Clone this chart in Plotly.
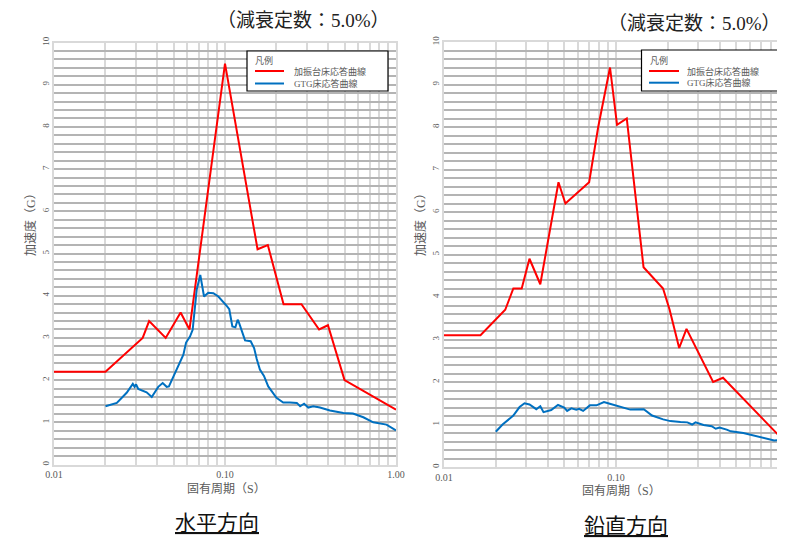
import plotly.graph_objects as go

W, H = 785, 540
OFF = 8  # page body margin: the figure is drawn 8px right/down in the browser

# ---------------- data ----------------
h_red_T = [0.01, 0.02, 0.033, 0.036, 0.045, 0.055, 0.062, 0.10, 0.155, 0.178, 0.22, 0.28, 0.355, 0.40, 0.50, 1.0]
h_red_A = [2.2, 2.2, 3.0, 3.4, 3.0, 3.6, 3.2, 9.5, 5.1, 5.2, 3.8, 3.8, 3.2, 3.3, 2.0, 1.3]

h_blue_T = [0.020, 0.0233, 0.0266, 0.0289, 0.0296, 0.0302, 0.0311, 0.0348, 0.0373, 0.0407, 0.0432,
            0.0456, 0.047, 0.0511, 0.0546, 0.0571, 0.0592, 0.0624, 0.0647, 0.0683, 0.0717, 0.0754,
            0.0798, 0.0855, 0.0914, 0.0957, 0.1023, 0.1059, 0.1104, 0.115, 0.1186, 0.121, 0.131,
            0.1413, 0.148, 0.1533, 0.160, 0.169, 0.179, 0.200, 0.219, 0.240, 0.263, 0.275, 0.29,
            0.307, 0.328, 0.359, 0.411, 0.492, 0.56, 0.644, 0.736, 0.88, 1.0]
h_blue_A = [1.38, 1.46, 1.70, 1.91, 1.84, 1.90, 1.79, 1.71, 1.60, 1.84, 1.93,
            1.84, 1.85, 2.17, 2.40, 2.60, 2.89, 3.03, 3.19, 4.14, 4.49, 3.98,
            4.07, 4.06, 3.98, 3.90, 3.76, 3.68, 3.27, 3.25, 3.43, 3.35, 2.94,
            2.92, 2.76, 2.50, 2.25, 2.10, 1.85, 1.58, 1.47, 1.47, 1.46, 1.38, 1.44,
            1.35, 1.38, 1.35, 1.28, 1.22, 1.21, 1.12, 1.00, 0.945, 0.81]

v_red_T = [0.01, 0.0163, 0.0227, 0.0253, 0.0283, 0.0314, 0.0363, 0.0463, 0.0508, 0.0698, 0.0788,
           0.0923, 0.1014, 0.1155, 0.1446, 0.1877, 0.205, 0.233, 0.257, 0.367, 0.419, 0.90, 1.0]
v_red_A = [3.1, 3.1, 3.7, 4.2, 4.2, 4.9, 4.3, 6.7, 6.2, 6.7, 8.0,
           9.4, 8.05, 8.2, 4.7, 4.2, 3.7, 2.8, 3.25, 2.0, 2.1, 0.71, 0.71]

v_blue_T = [0.020, 0.0219, 0.0253, 0.0275, 0.0294, 0.0314, 0.0344, 0.0363, 0.0379, 0.042, 0.046,
            0.050, 0.052, 0.055, 0.0588, 0.061, 0.0644, 0.0705, 0.077, 0.0851, 0.092, 0.100,
            0.109, 0.121, 0.145, 0.155, 0.162, 0.188, 0.207, 0.237, 0.26, 0.277, 0.29, 0.323,
            0.36, 0.38, 0.40, 0.44, 0.465, 0.55, 0.624, 0.69, 0.83, 0.87, 0.98]
v_blue_A = [0.83, 1.00, 1.21, 1.41, 1.50, 1.47, 1.36, 1.43, 1.29, 1.34, 1.46,
            1.40, 1.32, 1.38, 1.35, 1.37, 1.32, 1.45, 1.45, 1.53, 1.49, 1.45,
            1.40, 1.35, 1.36, 1.28, 1.21, 1.12, 1.08, 1.06, 1.05, 1.00, 1.05, 0.99,
            0.96, 0.90, 0.93, 0.88, 0.84, 0.80, 0.75, 0.71, 0.625, 0.63, 0.59]

x_tick_vals = [0.01, 0.02, 0.03, 0.04, 0.05, 0.06, 0.07, 0.08, 0.09,
               0.1, 0.2, 0.3, 0.4, 0.5, 0.6, 0.7, 0.8, 0.9, 1.0]
x_tick_text = ["0.01", "", "", "", "", "", "", "", "",
               "0.10", "", "", "", "", "", "", "", "", "1.00"]
y_tick_vals = [round(i * 0.2, 1) for i in range(51)]
y_tick_text = [str(int(v)) if abs(v - round(v)) < 1e-9 else "" for v in y_tick_vals]

name_red = "加振台床応答曲線"
name_blue = "GTG床応答曲線"
legend_title = "凡例"
title_text = "（減衰定数：5.0%）"
xlabel = "固有周期（S）"
ylabel = "加速度（G）"
panel_labels = ["水平方向", "鉛直方向"]

RED = "#ff0000"
BLUE = "#0070c0"
SERIF = "Liberation Serif, Noto Sans CJK JP, serif"
CJK = "Noto Sans CJK JP, sans-serif"
GRAY = "#595959"

fig = go.Figure()
fig.add_trace(go.Scatter(x=h_red_T, y=h_red_A, mode="lines", name=name_red, showlegend=False,
                         line=dict(color=RED, width=2), xaxis="x", yaxis="y"))
fig.add_trace(go.Scatter(x=h_blue_T, y=h_blue_A, mode="lines", name=name_blue, showlegend=False,
                         line=dict(color=BLUE, width=2), xaxis="x", yaxis="y"))
fig.add_trace(go.Scatter(x=v_red_T, y=v_red_A, mode="lines", name=name_red, showlegend=False,
                         line=dict(color=RED, width=2), xaxis="x2", yaxis="y2"))
fig.add_trace(go.Scatter(x=v_blue_T, y=v_blue_A, mode="lines", name=name_blue, showlegend=False,
                         line=dict(color=BLUE, width=2), xaxis="x2", yaxis="y2"))


# helpers: screen pixel (in the 785x540 screenshot) -> paper fraction
def px_x(p):
    return (p - OFF) / W


def px_y(p):
    return 1 - (p - OFF) / H


xcommon = dict(type="log", tickmode="array", tickvals=x_tick_vals, ticktext=x_tick_text,
               showgrid=True, gridcolor="#d9d9d9", gridwidth=2, zeroline=False,
               showline=True, linecolor="#d9d9d9", linewidth=1.5, mirror=True, automargin=False,
               ticks="", tickfont=dict(family=SERIF, size=10, color=GRAY))
ycommon = dict(range=[0, 10], tickmode="array", tickvals=y_tick_vals, ticktext=y_tick_text,
               showgrid=True, gridcolor="#b4b4b4", gridwidth=1.5, zeroline=False,
               showline=True, linecolor="#d9d9d9", linewidth=1.5, mirror=True, automargin=False,
               ticks="", tickangle=-90, tickfont=dict(family=SERIF, size=9, color=GRAY))

L0, L1 = 54, 396
R0 = 444
dec = 172.0
fig.update_layout(
    xaxis=dict(domain=[px_x(L0), px_x(L1)], range=[-2, 0], anchor="y", **xcommon),
    yaxis=dict(domain=[px_y(464.5), px_y(42.5)], anchor="x", **ycommon),
    xaxis2=dict(domain=[px_x(R0), px_x(785)], range=[-2, -2 + (785 - R0) / dec], anchor="y2", **xcommon),
    yaxis2=dict(domain=[px_y(467), px_y(42)], anchor="x2", **ycommon),
)

ann = []
shapes = []

# legends (box + swatches + labels), one per panel
for (bx0, bx1, by0, by1, lx0, lx1, ty, r_y, b_y, tx) in [
        (247, 388, 51, 91, 255, 284, 60, 71, 83.5, 292),
        (641.5, 784, 50, 91, 649, 679, 60, 71, 82.7, 685)]:
    shapes.append(dict(type="rect", xref="paper", yref="paper",
                       x0=px_x(bx0), x1=px_x(bx1), y0=px_y(by1), y1=px_y(by0),
                       line=dict(color="black", width=1.2), fillcolor="white", layer="above"))
    shapes.append(dict(type="line", xref="paper", yref="paper",
                       x0=px_x(lx0), x1=px_x(lx1), y0=px_y(r_y), y1=px_y(r_y),
                       line=dict(color=RED, width=2), layer="above"))
    shapes.append(dict(type="line", xref="paper", yref="paper",
                       x0=px_x(lx0), x1=px_x(lx1), y0=px_y(b_y), y1=px_y(b_y),
                       line=dict(color=BLUE, width=2), layer="above"))
    ann.append(dict(text=legend_title, x=px_x(bx0 + 6), y=px_y(ty), xref="paper", yref="paper",
                    showarrow=False, font=dict(family=SERIF, size=9, color=GRAY),
                    xanchor="left", yanchor="middle"))
    ann.append(dict(text=name_red, x=px_x(tx), y=px_y(r_y), xref="paper", yref="paper",
                    showarrow=False, font=dict(family=SERIF, size=9, color=GRAY),
                    xanchor="left", yanchor="middle"))
    ann.append(dict(text=name_blue, x=px_x(tx), y=px_y(b_y), xref="paper", yref="paper",
                    showarrow=False, font=dict(family=SERIF, size=9, color=GRAY),
                    xanchor="left", yanchor="middle"))

# titles
ann.append(dict(text=title_text, x=px_x(303), y=px_y(20), xref="paper", yref="paper",
                showarrow=False, font=dict(family=SERIF, size=19, color="#222222"),
                xanchor="center", yanchor="middle"))
ann.append(dict(text=title_text, x=px_x(694), y=px_y(23), xref="paper", yref="paper",
                showarrow=False, font=dict(family=SERIF, size=19, color="#222222"),
                xanchor="center", yanchor="middle"))
# axis titles
for cx, cy in [(226, 489), (621, 491)]:
    ann.append(dict(text=xlabel, x=px_x(cx), y=px_y(cy), xref="paper", yref="paper",
                    showarrow=False, font=dict(family=SERIF, size=12, color=GRAY),
                    xanchor="center", yanchor="middle"))
for cx, cy in [(31, 222), (421, 222)]:
    ann.append(dict(text=ylabel, x=px_x(cx), y=px_y(cy), xref="paper", yref="paper",
                    showarrow=False, textangle=-90, font=dict(family=SERIF, size=12, color=GRAY),
                    xanchor="center", yanchor="middle"))
# right-hand "1.00" label, cut by the page edge as in the reference
ann.append(dict(text="1.00", x=px_x(R0 + 2 * dec), y=px_y(477), xref="paper", yref="paper",
                showarrow=False, font=dict(family=SERIF, size=10, color=GRAY),
                xanchor="center", yanchor="middle"))
# panel labels
for txt, cx, cy in [(panel_labels[0], 217, 521), (panel_labels[1], 626, 524)]:
    ann.append(dict(text="<u>" + txt + "</u>", x=px_x(cx), y=px_y(cy), xref="paper", yref="paper",
                    showarrow=False, font=dict(family=CJK, size=21, color="#111111"),
                    xanchor="center", yanchor="middle"))

fig.update_layout(
    width=W, height=H, margin=dict(l=0, r=0, t=0, b=0),
    paper_bgcolor="white", plot_bgcolor="white",
    annotations=ann, shapes=shapes, showlegend=False,
)

fig.write_html("out.html")
